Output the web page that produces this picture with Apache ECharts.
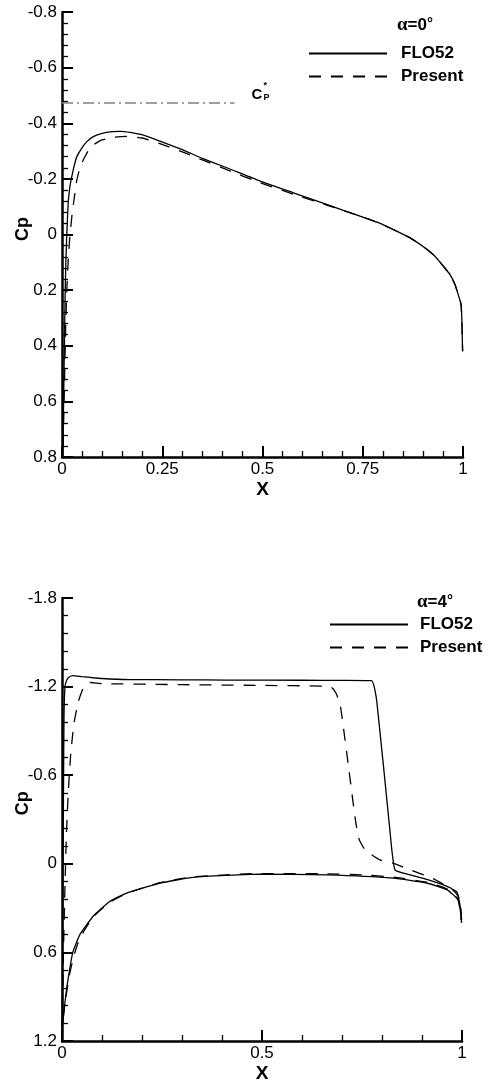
<!DOCTYPE html>
<html>
<head>
<meta charset="utf-8">
<script src="https://cdn.jsdelivr.net/npm/echarts@6/dist/echarts.min.js"></script>
<style>
  html, body { margin: 0; padding: 0; background: #ffffff; }
  #chart { width: 489px; height: 1084px; }
</style>
</head>
<body>
<div id="chart"></div>
<script>
// Pressure coefficient along the airfoil chord, two angles of attack.
// Each point is [x/c, Cp].

// alpha = 0 deg (symmetric: one curve per method)
const flo52Alpha0 = [
  [0.000, 1.00], [0.002, 0.80], [0.004, 0.60], [0.006, 0.40], [0.008, 0.20],
  [0.010, 0.08], [0.012, 0.00], [0.014, -0.07], [0.016, -0.124], [0.020, -0.175],
  [0.024, -0.205], [0.030, -0.245], [0.037, -0.280], [0.049, -0.310], [0.062, -0.334],
  [0.078, -0.352], [0.100, -0.364], [0.125, -0.370], [0.145, -0.371], [0.170, -0.367],
  [0.203, -0.357], [0.244, -0.336], [0.300, -0.305], [0.350, -0.274], [0.411, -0.240],
  [0.494, -0.192], [0.577, -0.150], [0.660, -0.108], [0.743, -0.066], [0.793, -0.040],
  [0.826, -0.018], [0.868, 0.012], [0.909, 0.052], [0.930, 0.078], [0.951, 0.114],
  [0.968, 0.145], [0.980, 0.180], [0.990, 0.225], [0.995, 0.250], [0.997, 0.300],
  [0.998, 0.360], [0.999, 0.420]
];
const presentAlpha0 = [
  [0.000, 1.00], [0.002, 0.85], [0.004, 0.68], [0.007, 0.48], [0.009, 0.34],
  [0.012, 0.20], [0.016, 0.08], [0.020, 0.00], [0.025, -0.07], [0.029, -0.115],
  [0.037, -0.196], [0.045, -0.240], [0.053, -0.268], [0.065, -0.300], [0.078, -0.322],
  [0.100, -0.340], [0.130, -0.350], [0.161, -0.353], [0.200, -0.347], [0.244, -0.327],
  [0.300, -0.297], [0.350, -0.268], [0.411, -0.233], [0.494, -0.186], [0.577, -0.145],
  [0.660, -0.106], [0.743, -0.066], [0.793, -0.040], [0.826, -0.018], [0.868, 0.012],
  [0.909, 0.052], [0.930, 0.078], [0.951, 0.114], [0.968, 0.145], [0.980, 0.180],
  [0.990, 0.225], [0.995, 0.250], [0.997, 0.300], [0.998, 0.360], [0.999, 0.420]
];
// critical pressure coefficient, drawn over the forward part of the chord
const cpStar = -0.473;
const cpStarSpan = [0.0, 0.43];

// alpha = 4 deg: trailing edge -> upper surface -> leading edge -> lower surface -> trailing edge
const flo52Alpha4 = [
  [0.999, 0.40], [0.996, 0.30], [0.990, 0.22], [0.975, 0.17], [0.950, 0.14],
  [0.912, 0.105], [0.870, 0.075], [0.8325, 0.041], [0.820, -0.22], [0.787, -1.10],
  [0.774, -1.240], [0.700, -1.242], [0.600, -1.243], [0.412, -1.244], [0.300, -1.246],
  [0.162, -1.248], [0.100, -1.255], [0.078, -1.260], [0.050, -1.268], [0.028, -1.275],
  [0.018, -1.265], [0.012, -1.245], [0.0075, -1.20], [0.005, -1.00], [0.004, -0.60],
  [0.003, -0.20], [0.002, 0.30], [0.001, 0.80], [0.000, 1.10],
  [0.003, 1.05], [0.006, 0.97], [0.012, 0.837], [0.020, 0.70], [0.027, 0.60],
  [0.045, 0.478], [0.078, 0.355], [0.120, 0.254], [0.162, 0.198], [0.245, 0.131],
  [0.328, 0.092], [0.495, 0.070], [0.662, 0.075], [0.828, 0.097], [0.912, 0.130],
  [0.962, 0.175], [0.990, 0.243], [0.996, 0.32], [0.999, 0.40]
];
const presentAlpha4 = [
  [0.999, 0.38], [0.996, 0.27], [0.987, 0.190], [0.974, 0.171], [0.928, 0.100],
  [0.870, 0.041], [0.828, -0.004], [0.795, -0.026], [0.758, -0.093], [0.742, -0.172],
  [0.733, -0.307], [0.717, -0.643], [0.696, -1.07], [0.686, -1.15], [0.676, -1.19],
  [0.653, -1.203], [0.500, -1.208], [0.300, -1.213], [0.103, -1.220], [0.080, -1.225],
  [0.070, -1.228], [0.060, -1.215], [0.053, -1.19], [0.041, -1.10], [0.030, -0.95],
  [0.022, -0.75], [0.016, -0.50], [0.011, -0.20], [0.007, 0.20], [0.004, 0.55],
  [0.002, 0.85], [0.000, 1.12],
  [0.004, 1.02], [0.010, 0.90], [0.018, 0.76], [0.030, 0.62], [0.045, 0.50],
  [0.078, 0.36], [0.120, 0.26], [0.162, 0.200], [0.245, 0.128], [0.328, 0.088],
  [0.495, 0.066], [0.662, 0.068], [0.750, 0.075], [0.828, 0.090], [0.912, 0.125],
  [0.962, 0.170], [0.990, 0.240], [0.998, 0.38]
];

// tick labels
const topXTicks = ['0', '0.25', '0.5', '0.75', '1'];
const topYTicks = ['-0.8', '-0.6', '-0.4', '-0.2', '0', '0.2', '0.4', '0.6', '0.8'];
const bottomXTicks = ['0', '0.5', '1'];
const bottomYTicks = ['-1.8', '-1.2', '-0.6', '0', '0.6', '1.2'];

const seriesNames = ['FLO52', 'Present'];
const FONT = '"Liberation Sans", Arial, Helvetica, sans-serif';
const DASH = [12, 10];

function tickFormatter(labels, min, interval) {
  return function (v) {
    const i = Math.round((v - min) / interval);
    return labels[i] !== undefined ? labels[i] : '';
  };
}

function xAxis(gridIndex, interval, labels) {
  return {
    type: 'value', gridIndex: gridIndex, min: 0, max: 1, interval: interval,
    name: 'X', nameLocation: 'middle', nameGap: 23,
    nameTextStyle: { fontFamily: FONT, fontWeight: 'bold', fontSize: 19, color: '#000' },
    axisLine: { onZero: false, lineStyle: { color: '#000', width: 2.5 } },
    axisTick: { inside: true, length: 11, lineStyle: { color: '#000', width: 2 } },
    minorTick: { show: true, splitNumber: 5, length: 6, lineStyle: { color: '#000', width: 1.3 } },
    axisLabel: { margin: 4, fontFamily: FONT, fontSize: 17, color: '#000',
      formatter: tickFormatter(labels, 0, interval) },
    splitLine: { show: false }, minorSplitLine: { show: false }
  };
}

function yAxis(gridIndex, min, max, interval, labels) {
  return {
    type: 'value', gridIndex: gridIndex, min: min, max: max, interval: interval, inverse: true,
    axisLine: { onZero: false, lineStyle: { color: '#000', width: 2.5 } },
    axisTick: { inside: true, length: 11, lineStyle: { color: '#000', width: 2 } },
    minorTick: { show: true, splitNumber: 5, length: 6, lineStyle: { color: '#000', width: 1.3 } },
    axisLabel: { margin: 5, fontFamily: FONT, fontSize: 17, color: '#000',
      formatter: tickFormatter(labels, min, interval) },
    splitLine: { show: false }, minorSplitLine: { show: false }
  };
}

function curve(name, data, axisIndex, dashed) {
  return {
    name: name, type: 'line', data: data, xAxisIndex: axisIndex, yAxisIndex: axisIndex,
    symbol: 'none', showSymbol: false, smooth: 0.15, clip: true, silent: true, animation: false,
    lineStyle: { color: '#000', width: 1.3, type: dashed ? DASH : 'solid' },
    itemStyle: { color: '#000' }, z: 3
  };
}

function legend(left, top, padLeft) {
  return {
    data: seriesNames, orient: 'vertical', left: left, top: top, padding: 0,
    itemWidth: 78, itemHeight: 14, itemGap: 6, selectedMode: false,
    itemStyle: { opacity: 0 },
    lineStyle: { opacity: 1 },
    textStyle: { fontFamily: FONT, fontWeight: 'bold', fontSize: 17, color: '#000',
      padding: [0, 0, 0, padLeft] }
  };
}

function alphaTitle(text, left, top) {
  return {
    text: '{g|α}{b|=' + text + '}{d|°}', left: left, top: top, padding: 0,
    textStyle: {
      rich: {
        g: { fontFamily: '"Liberation Serif", serif', fontSize: 19, color: '#000' },
        b: { fontFamily: FONT, fontWeight: 'bold', fontSize: 17, color: '#000' },
        d: { fontFamily: FONT, fontSize: 15, color: '#000', verticalAlign: 'top' }
      }
    }
  };
}

const option = {
  backgroundColor: '#ffffff',
  animation: false,
  title: [alphaTitle('0', 397, 16), alphaTitle('4', 417, 593)],
  legend: [legend(308, 45, 9), legend(329, 616, 7)],
  grid: [
    { left: 62, top: 12, width: 401, height: 445, containLabel: false },
    { left: 62, top: 598, width: 400, height: 446, containLabel: false }
  ],
  xAxis: [xAxis(0, 0.25, topXTicks), xAxis(1, 0.5, bottomXTicks)],
  yAxis: [yAxis(0, -0.8, 0.8, 0.2, topYTicks), yAxis(1, -1.8, 1.2, 0.6, bottomYTicks)],
  series: [
    curve('FLO52', flo52Alpha0, 0, false),
    curve('Present', presentAlpha0, 0, true),
    {
      name: 'Cp*', type: 'line', xAxisIndex: 0, yAxisIndex: 0, symbol: 'none',
      data: cpStarSpan.map(function (x) { return [x, cpStar]; }),
      lineStyle: { color: '#808080', width: 1.5, type: [11, 4, 2, 4] }, silent: true, z: 2
    },
    curve('FLO52', flo52Alpha4, 1, false),
    curve('Present', presentAlpha4, 1, true)
  ]
};

const chart = echarts.init(document.getElementById('chart'), null, { renderer: 'canvas' });
chart.setOption(option);

// Axis titles "Cp" and the C*p annotation at the end of the critical-pressure line
const end = chart.convertToPixel({ gridIndex: 0 }, [cpStarSpan[1], cpStar]);
const midTop = chart.convertToPixel({ gridIndex: 0 }, [0, -0.02]);
const midBottom = chart.convertToPixel({ gridIndex: 1 }, [0, -0.41]);
const boldText = { fontFamily: FONT, fontWeight: 'bold', fill: '#000' };

chart.setOption({
  graphic: [
    { type: 'text', x: 23, y: midTop[1], rotation: Math.PI / 2,
      style: Object.assign({ text: 'Cp', fontSize: 18, align: 'center', verticalAlign: 'middle' }, boldText) },
    { type: 'text', x: 23, y: midBottom[1], rotation: Math.PI / 2,
      style: Object.assign({ text: 'Cp', fontSize: 18, align: 'center', verticalAlign: 'middle' }, boldText) },
    { type: 'text', x: end[0] + 17, y: end[1] - 8,
      style: Object.assign({ text: 'C', fontSize: 15, align: 'left', verticalAlign: 'middle' }, boldText) },
    { type: 'text', x: end[0] + 29, y: end[1] - 17,
      style: Object.assign({ text: '*', fontSize: 9, align: 'left', verticalAlign: 'middle' }, boldText) },
    { type: 'text', x: end[0] + 29, y: end[1] - 5,
      style: Object.assign({ text: 'P', fontSize: 9, align: 'left', verticalAlign: 'middle' }, boldText) }
  ]
});
</script>
</body>
</html>
